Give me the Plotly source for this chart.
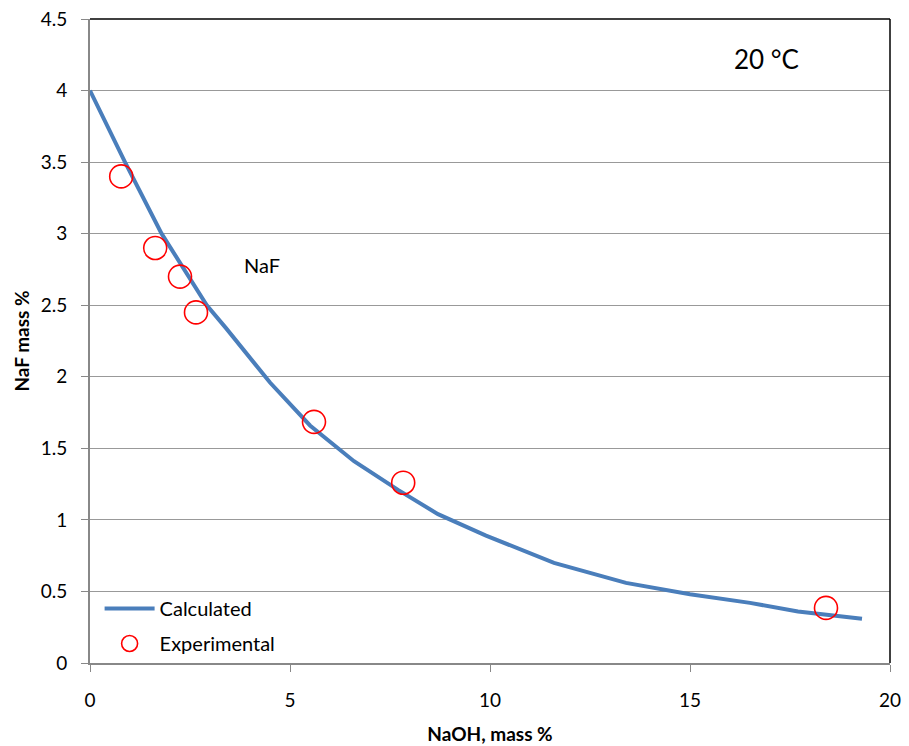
import plotly.graph_objects as go

calc_x = [0, 0.875, 1.79, 2.92, 3.4, 4.5, 5.5, 6.6, 7.7, 8.7, 9.9, 11.6, 13.4, 15.0, 16.5, 17.7, 19.3]
calc_y = [4.0, 3.5, 3.0, 2.5, 2.34, 1.96, 1.66, 1.41, 1.21, 1.04, 0.89, 0.70, 0.56, 0.48, 0.42, 0.36, 0.31]

exp_x = [0.78, 1.63, 2.25, 2.65, 5.6, 7.83, 18.4]
exp_y = [3.40, 2.90, 2.70, 2.45, 1.685, 1.26, 0.385]

x_ticks = [0, 5, 10, 15, 20]
y_ticks = [0, 0.5, 1, 1.5, 2, 2.5, 3, 3.5, 4, 4.5]
y_labels = ["0", "0.5", "1", "1.5", "2", "2.5", "3", "3.5", "4", "4.5"]

FONT = "Lato, Open Sans, sans-serif"

fig = go.Figure()
fig.add_trace(go.Scatter(x=calc_x, y=calc_y, mode="lines", name="Calculated",
                         legendgroup="a",
                         line=dict(color="#4a7ebb", width=4)))
fig.add_trace(go.Scatter(x=exp_x, y=exp_y, mode="markers", name="Experimental",
                         legendgroup="b",
                         marker=dict(symbol="circle-open", size=23, color="#ff0000",
                                     line=dict(width=1.6, color="#ff0000"))))

fig.add_annotation(x=4.3, y=2.78, text="NaF", showarrow=False,
                   font=dict(family=FONT, size=20, color="black"))
fig.add_annotation(x=16.9, y=4.22, text="20 °C", showarrow=False,
                   font=dict(family=FONT, size=26, color="black"))

# top and right black borders
fig.add_shape(type="line", xref="paper", yref="paper", x0=0, x1=1, y0=1, y1=1,
              line=dict(color="black", width=1.5))
fig.add_shape(type="line", xref="paper", yref="paper", x0=1, x1=1, y0=0, y1=1,
              line=dict(color="black", width=1.5))

fig.update_layout(
    width=909, height=746,
    margin=dict(l=90, r=19, t=19, b=83),
    paper_bgcolor="white", plot_bgcolor="white",
    font=dict(family=FONT, size=19, color="black"),
    showlegend=True,
    legend=dict(x=0.012, y=0.0, xanchor="left", yanchor="bottom",
                bgcolor="rgba(0,0,0,0)", font=dict(size=20, family=FONT),
                itemwidth=50, tracegroupgap=6),
    xaxis=dict(range=[0, 20], tickvals=x_ticks, ticks="outside", ticklen=7,
               tickcolor="#888888", showline=True, linecolor="#888888", linewidth=2,
               showgrid=False, zeroline=False, ticklabelstandoff=12, automargin=False,
               title=dict(text="<b>NaOH, mass %</b>", font=dict(size=19, family=FONT), standoff=18),
               tickfont=dict(size=19)),
    yaxis=dict(range=[0, 4.5], tickvals=y_ticks, ticktext=y_labels, ticks="outside", ticklen=7,
               tickcolor="#888888", showline=True, linecolor="#888888", linewidth=2,
               showgrid=True, gridcolor="#999999", gridwidth=1.3, zeroline=False,
               ticklabelstandoff=10, automargin=False,
               title=dict(text="<b>NaF mass %</b>", font=dict(size=19, family=FONT), standoff=6),
               tickfont=dict(size=19)),
)

fig.write_html("out.html")
